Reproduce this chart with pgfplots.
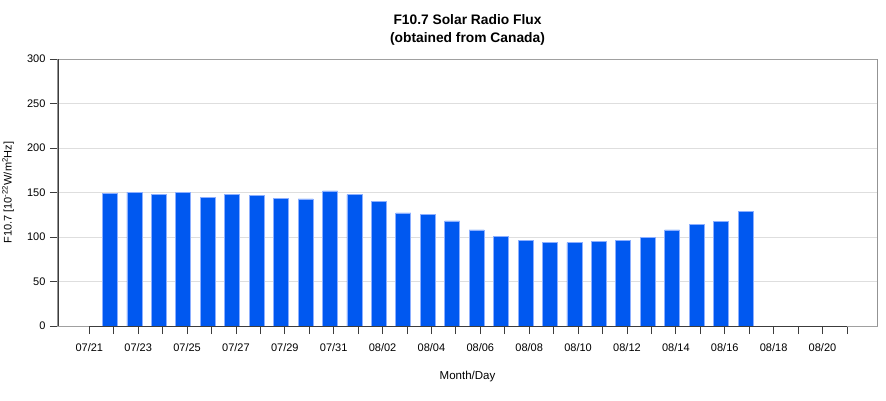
\documentclass[border=0pt]{standalone}
\usepackage{pgfplots}
\pgfplotsset{compat=1.18}
\usepackage{fontspec}
\setmainfont{Liberation Sans}
\definecolor{barblue}{RGB}{0,88,240}
\definecolor{baredge}{RGB}{140,175,255}
\definecolor{gridgray}{RGB}{222,222,222}
\definecolor{framegray}{RGB}{160,160,160}
\definecolor{axisdark}{RGB}{60,60,60}
\begin{document}
\begin{tikzpicture}
\path[use as bounding box] (-58pt,-74pt) rectangle (828pt,326pt);
\begin{axis}[
  at={(0pt,0pt)}, anchor=south west,
  scale only axis, width=819pt, height=267pt,
  xmin=-1.28, xmax=32.23, ymin=0, ymax=300,
  ybar, bar width=15pt, bar shift=0pt,
  xtick={0,2,...,30},
  xticklabels={07/21,07/23,07/25,07/27,07/29,07/31,08/02,08/04,08/06,08/08,08/10,08/12,08/14,08/16,08/18,08/20},
  minor xtick={1,3,...,31},
  ytick={0,50,...,300},
  tick align=outside,
  major tick length=8pt, minor tick length=8pt,
  xtick pos=bottom, ytick pos=left,
  tick style={axisdark, line width=0.8pt},
  minor tick style={axisdark, line width=0.8pt},
  ymajorgrids, grid style={gridgray, line width=0.9pt},
  axis line style={framegray, line width=1pt},
  /pgf/number format/assume math mode=true,
  ticklabel style={font=\fontsize{11}{13}\selectfont},
  xticklabel style={yshift=-6pt},
  yticklabel style={xshift=-1pt},
  title={F10.7 Solar Radio Flux\\[1pt](obtained from Canada)},
  title style={font=\bfseries\fontsize{13.8}{17}\selectfont, align=center, at={(axis description cs:0.5,1)}, anchor=south, yshift=4pt},
  xlabel={Month/Day},
  xlabel style={font=\fontsize{11.5}{13}\selectfont, at={(axis description cs:0.5,0)}, anchor=center, yshift=-51pt},
  ylabel={F10.7 [10\textsuperscript{-22}W/m\textsuperscript{2}Hz]},
  ylabel style={font=\fontsize{11}{13}\selectfont, at={(axis description cs:0,0.5)}, anchor=center, rotate=0, yshift=50pt},
]
\addplot[fill=barblue, draw=baredge, line width=0.8pt] coordinates {
(0.85,149.1) (1.85,150.2) (2.85,147.6) (3.85,149.8) (4.85,144.9)
(5.85,148.3) (6.85,146.8) (7.85,143.4) (8.85,142.7) (9.85,151.7)
(10.85,147.6) (11.85,139.7) (12.85,127.0) (13.85,125.8) (14.85,118.0)
(15.85,107.9) (16.85,101.1) (17.85,96.6) (18.85,93.6) (19.85,93.6)
(20.85,95.5) (21.85,96.6) (22.85,100.0) (23.85,107.9) (24.85,113.9)
(25.85,117.2) (26.85,128.8)
};
\draw[axisdark, line width=1pt] (axis cs:0,0) -- (axis cs:31,0);
\draw[axisdark, line width=1.2pt] (rel axis cs:0,0) -- (rel axis cs:0,1);
\draw[axisdark, line width=1pt] (rel axis cs:1,0) -- (rel axis cs:1,1);
\end{axis}
\end{tikzpicture}
\end{document}
